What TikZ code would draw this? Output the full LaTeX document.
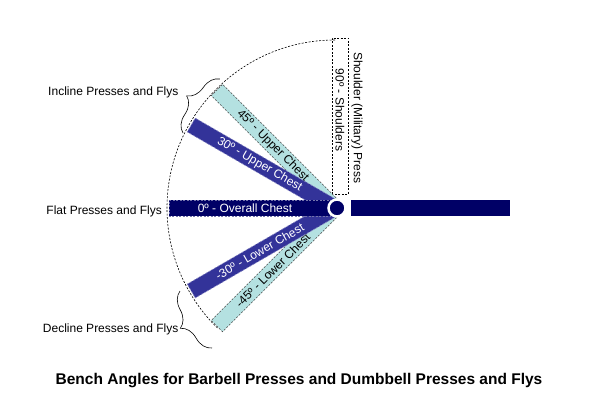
\documentclass[tikz,border=0pt]{standalone}
\usepackage{fontspec}
\setmainfont{Liberation Sans}
\usetikzlibrary{decorations.pathreplacing}

\definecolor{navybar}{RGB}{0,0,102}
\definecolor{bluebar}{RGB}{51,51,153}
\definecolor{aquabar}{RGB}{180,225,225}

\begin{document}
\begin{tikzpicture}[x=1pt, y=1pt,
        lbl/.style={font=\fontsize{12}{14}\selectfont, inner sep=0pt},
        aqua/.style={fill=aquabar, draw=black!70, dash pattern=on 2pt off 1.5pt, line width=0.6pt},
        dark/.style={fill=bluebar, draw=bluebar!55!white, dash pattern=on 2pt off 1.5pt, line width=0.6pt},
        deep/.style={fill=navybar, draw=navybar!55!white, dash pattern=on 2pt off 1.5pt, line width=0.6pt},
        curly/.style={decorate, decoration={brace, amplitude=18pt}, line width=0.6pt}]
                    \useasboundingbox (0,0) rectangle (600,400);

                    % dashed sweep and the vertical box
                    \draw[dash pattern=on 2pt off 1.5pt, line width=0.6pt] (335,360) arc[start angle=90, end angle=226, radius=168];
                    \draw[dash pattern=on 2pt off 1.5pt, line width=0.6pt] (332,206) rectangle (348,362);
                    \node[lbl, rotate=-90] (shoulders) at (340,290) {90º - Shoulders};
                    \node[lbl, rotate=-90] (military) at (357,282) {Shoulder (Military) Press};

                    % 45 degree bars
                    \begin{scope}[shift={(335,192)}, rotate=-45, every node/.style={transform shape}]
                        \path[aqua] (-5,-8) rectangle (-167,8);
                        \node[lbl] (upper45) at (-88,0) {45º - Upper Chest};
                    \end{scope}
                    \begin{scope}[shift={(335,192)}, rotate=45, every node/.style={transform shape}]
                        \path[aqua] (-5,-8) rectangle (-167,8);
                        \node[lbl] (lower45) at (-88,0) {-45º - Lower Chest};
                    \end{scope}

                    % 30 degree bars
                    \begin{scope}[shift={(335,192)}, rotate=-30, every node/.style={transform shape}]
                        \path[dark] (-5,-8) rectangle (-166,8);
                        \node[lbl, white] (upper30) at (-87,0) {30º - Upper Chest};
                    \end{scope}
                    \begin{scope}[shift={(335,192)}, rotate=30, every node/.style={transform shape}]
                        \path[dark] (-5,-8) rectangle (-166,8);
                        \node[lbl, white] (lower30) at (-87,0) {-30º - Lower Chest};
                    \end{scope}

                    % flat bar, pivot and bench
                    \path[deep] (330,184) rectangle (169,200);
                    \node[lbl, white] (flat) at (245,192) {0º - Overall Chest};
                    \fill[navybar] (351,184) rectangle (510,200);
                    \filldraw[fill=navybar, draw=white, line width=2.5pt] (337,192) circle (8.5);

                    % braces and their labels
                    \coordinate (inclineA) at (183,267);
                    \coordinate (inclineB) at (220,321);
                    \coordinate (declineA) at (212,52);
                    \coordinate (declineB) at (180,109);
                    \draw[curly] (inclineA) -- (inclineB);
                    \draw[curly] (declineA) -- (declineB);

                    \node[lbl, anchor=east] (incline) at (178.5,308) {Incline Presses and Flys};
                    \node[lbl, anchor=east] (flatlbl) at (162,189) {Flat Presses and Flys};
                    \node[lbl, anchor=east] (decline) at (178.5,71) {Decline Presses and Flys};

                    \node[font=\fontsize{15.5}{18}\selectfont\bfseries] (title) at (299,19) {Bench Angles for Barbell Presses and Dumbbell Presses and Flys};
\end{tikzpicture}
\end{document}
